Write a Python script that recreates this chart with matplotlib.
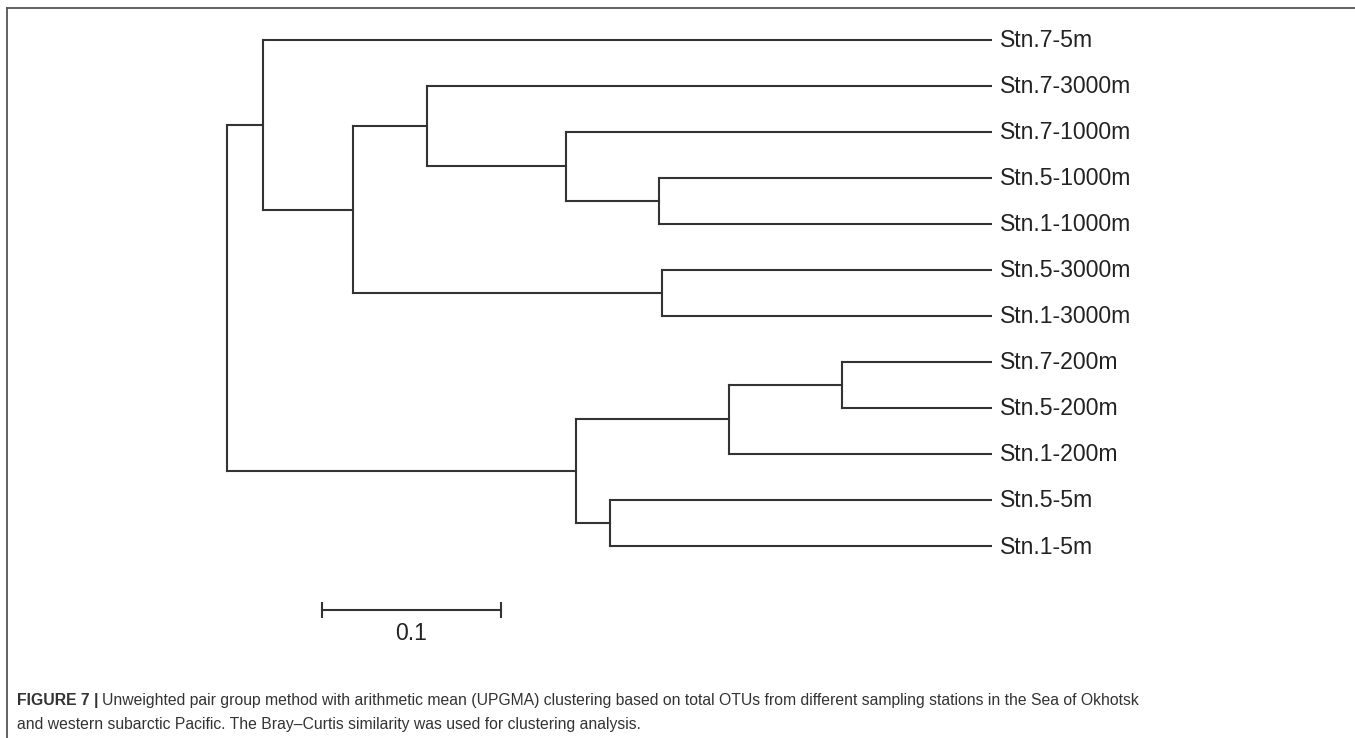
import matplotlib
matplotlib.use("Agg")
import matplotlib.pyplot as plt
from matplotlib.lines import Line2D

# leaves, top to bottom
leaves = ["Stn.7-5m", "Stn.7-3000m", "Stn.7-1000m", "Stn.5-1000m", "Stn.1-1000m",
          "Stn.5-3000m", "Stn.1-3000m", "Stn.7-200m", "Stn.5-200m", "Stn.1-200m",
          "Stn.5-5m", "Stn.1-5m"]

# merges: (child a, child b, height); leaves are 0..11, new nodes 12, 13, ...
merges = [
    (3, 4, 0.186),     # 12
    (7, 8, 0.0838),    # 13
    (5, 6, 0.1844),    # 14
    (10, 11, 0.2134),  # 15
    (2, 12, 0.238),    # 16
    (13, 9, 0.1469),   # 17
    (1, 16, 0.3156),   # 18
    (17, 15, 0.2324),  # 19
    (18, 14, 0.357),   # 20
    (0, 20, 0.4073),   # 21
    (21, 19, 0.4274),  # 22
]
scale_len = 0.1
scale_start = 0.3743

W, H = 1355, 738
fig = plt.figure(figsize=(W / 100, H / 100), dpi=100)
line_col = "#333333"
lab_font = ["Liberation Sans", "DejaVu Sans"]

# axes mapped so leaves sit at x=992px, 46px apart starting at y=40px
ax_left, ax_right = 200, 992
ax_top, ax_bot = 17, 650
ax = fig.add_axes([ax_left / W, 1 - ax_bot / H, (ax_right - ax_left) / W, (ax_bot - ax_top) / H])
ax.set_xlim((ax_right - ax_left) / 1790, 0)
ax.set_ylim((ax_bot - 40) / 46, (ax_top - 40) / 46)
ax.axis("off")

ypos = {i: float(i) for i in range(len(leaves))}
xpos = {i: 0.0 for i in range(len(leaves))}
for k, (a, b, h) in enumerate(merges):
    n = len(leaves) + k
    for c in (a, b):
        ax.plot([xpos[c], h], [ypos[c], ypos[c]], color=line_col, lw=1.5, solid_capstyle="projecting")
    ax.plot([h, h], [ypos[a], ypos[b]], color=line_col, lw=1.5, solid_capstyle="projecting")
    xpos[n] = h
    ypos[n] = (ypos[a] + ypos[b]) / 2

for i, name in enumerate(leaves):
    ax.annotate(name, (0, i), xytext=(8, -1), textcoords="offset pixels",
                ha="left", va="center", fontsize=16.6, color="#222222", family=lab_font)

# scale bar
sy = (610 - 40) / 46
ax.plot([scale_start, scale_start - scale_len], [sy, sy], color=line_col, lw=1.5,
        marker="|", markersize=12, mew=1.5, clip_on=False)
ax.annotate(str(scale_len), (scale_start - scale_len / 2, sy), xytext=(0, -24), textcoords="offset pixels",
            ha="center", va="center", fontsize=16.6, color="#222222", family=lab_font)

# frame lines (top and left)
fig.add_artist(Line2D([7 / W, 1], [1 - 8 / H, 1 - 8 / H], transform=fig.transFigure, color="#555555", lw=1.3))
fig.add_artist(Line2D([7 / W, 7 / W], [1 - 8 / H, 0], transform=fig.transFigure, color="#555555", lw=1.3))

# caption
cap_font = ["Liberation Sans Narrow", "Liberation Sans", "DejaVu Sans"]
cap_col = "#333333"
t1 = fig.text(17 / W, 1 - 701 / H, "FIGURE 7 |", fontsize=11.35, fontweight="bold",
              family=cap_font, color=cap_col, ha="left", va="center")
fig.canvas.draw()
bb = t1.get_window_extent()
fig.text(bb.x1 / W + 4 / W, 1 - 701 / H,
         "Unweighted pair group method with arithmetic mean (UPGMA) clustering based on total OTUs from different sampling stations in the Sea of Okhotsk",
         fontsize=11.35, family=cap_font, color=cap_col, ha="left", va="center")
fig.text(17 / W, 1 - 725 / H,
         "and western subarctic Pacific. The Bray\u2013Curtis similarity was used for clustering analysis.",
         fontsize=11.35, family=cap_font, color=cap_col, ha="left", va="center")

fig.savefig("out.png", dpi=100)
